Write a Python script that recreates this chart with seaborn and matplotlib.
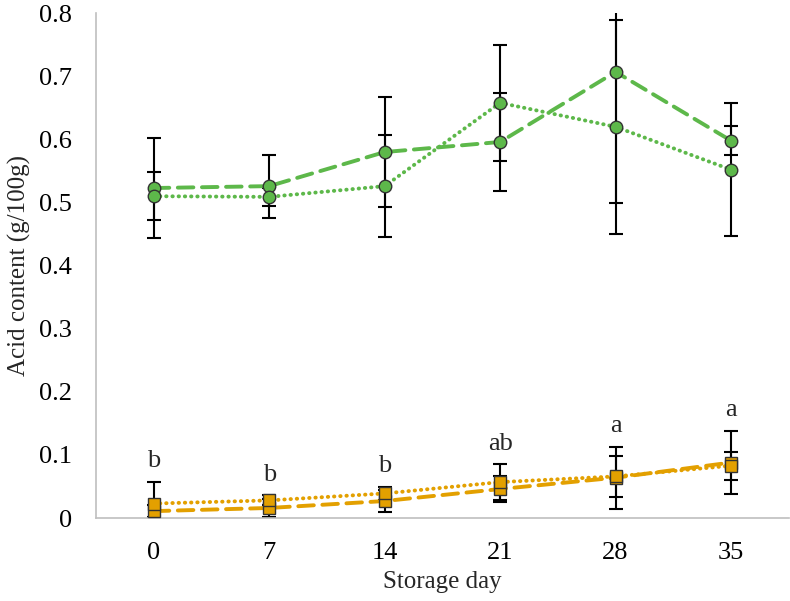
import seaborn as sns
import matplotlib.pyplot as plt
import pandas as pd
from matplotlib.ticker import FuncFormatter

# valores (g/100g)
days = ['0', '7', '14', '21', '28', '35']
green_dash = [0.523, 0.526, 0.580, 0.596, 0.707, 0.598]
green_dash_err = [0.079, 0.050, 0.087, 0.077, 0.208, 0.023]
green_dot = [0.510, 0.509, 0.526, 0.658, 0.620, 0.552]
green_dot_err = [0.038, 0.014, 0.081, 0.092, 0.170, 0.105]
orange_dash = [0.011, 0.016, 0.027, 0.046, 0.064, 0.088]
orange_dash_err = [0.010, 0.014, 0.018, 0.021, 0.049, 0.050]
orange_dot = [0.023, 0.028, 0.039, 0.057, 0.066, 0.083]
orange_dot_err = [0.034, 0.008, 0.010, 0.028, 0.032, 0.022]
letters = ['b', 'b', 'b', 'ab', 'a', 'a']

GREEN = '#5DB84A'
ORANGE = '#E3A000'

sns.set_theme(style='white')
plt.rcParams['font.family'] = ['Liberation Serif', 'DejaVu Serif']

fig = plt.figure(figsize=(7.9, 6.01), dpi=100)
ax = fig.add_axes([0.1215, 0.138, 0.877, 0.84])

pos = list(range(len(days)))
series = [
    (green_dash, green_dash_err, GREEN, (0, (4, 2.2)), 'o', 9),
    (green_dot, green_dot_err, GREEN, (0, (0.1, 1.5)), 'o', 9),
    (orange_dash, orange_dash_err, ORANGE, (0, (4, 2.2)), 's', 9),
    (orange_dot, orange_dot_err, ORANGE, (0, (0.1, 1.5)), 's', 9),
]

for vals, errs, color, ls, mk, ms in series:
    df = pd.DataFrame({'pos': pos, 'val': vals})
    ax.errorbar(pos, vals, yerr=errs, fmt='none', ecolor='black',
                elinewidth=1.5, capsize=5, capthick=1.5, zorder=2)
    sns.lineplot(data=df, x='pos', y='val', ax=ax, color=color, linewidth=2.8,
                 linestyle=ls, dash_capstyle='round', marker=mk, markersize=ms,
                 markerfacecolor=color, markeredgecolor='#333333',
                 markeredgewidth=1.0, zorder=3)

# letras de significância acima das barras de erro laranja
for i, lab in enumerate(letters):
    top = max(orange_dash[i] + orange_dash_err[i], orange_dot[i] + orange_dot_err[i])
    ax.annotate(lab, (pos[i], top), xytext=(0, 15), textcoords='offset points',
                ha='center', va='center', fontsize=19)

ax.set_xlim(-0.5, len(days) - 0.5)
ax.set_ylim(0, 0.8)
ax.set_xticks(pos)
ax.set_xticklabels(days)
ax.set_yticks([i / 10 for i in range(9)])
ax.yaxis.set_major_formatter(FuncFormatter(lambda v, p: f'{v:g}'))
ax.tick_params(axis='both', length=0, pad=17, labelsize=19, colors='black')

for side in ['top', 'right']:
    ax.spines[side].set_visible(False)
for side in ['left', 'bottom']:
    ax.spines[side].set_color('#BFBFBF')
    ax.spines[side].set_linewidth(1.2)

ax.set_xlabel('Storage day', fontsize=18, labelpad=5)
ax.set_ylabel('Acid content (g/100g)', fontsize=18, labelpad=6)

fig.savefig('out.png', dpi=100)
